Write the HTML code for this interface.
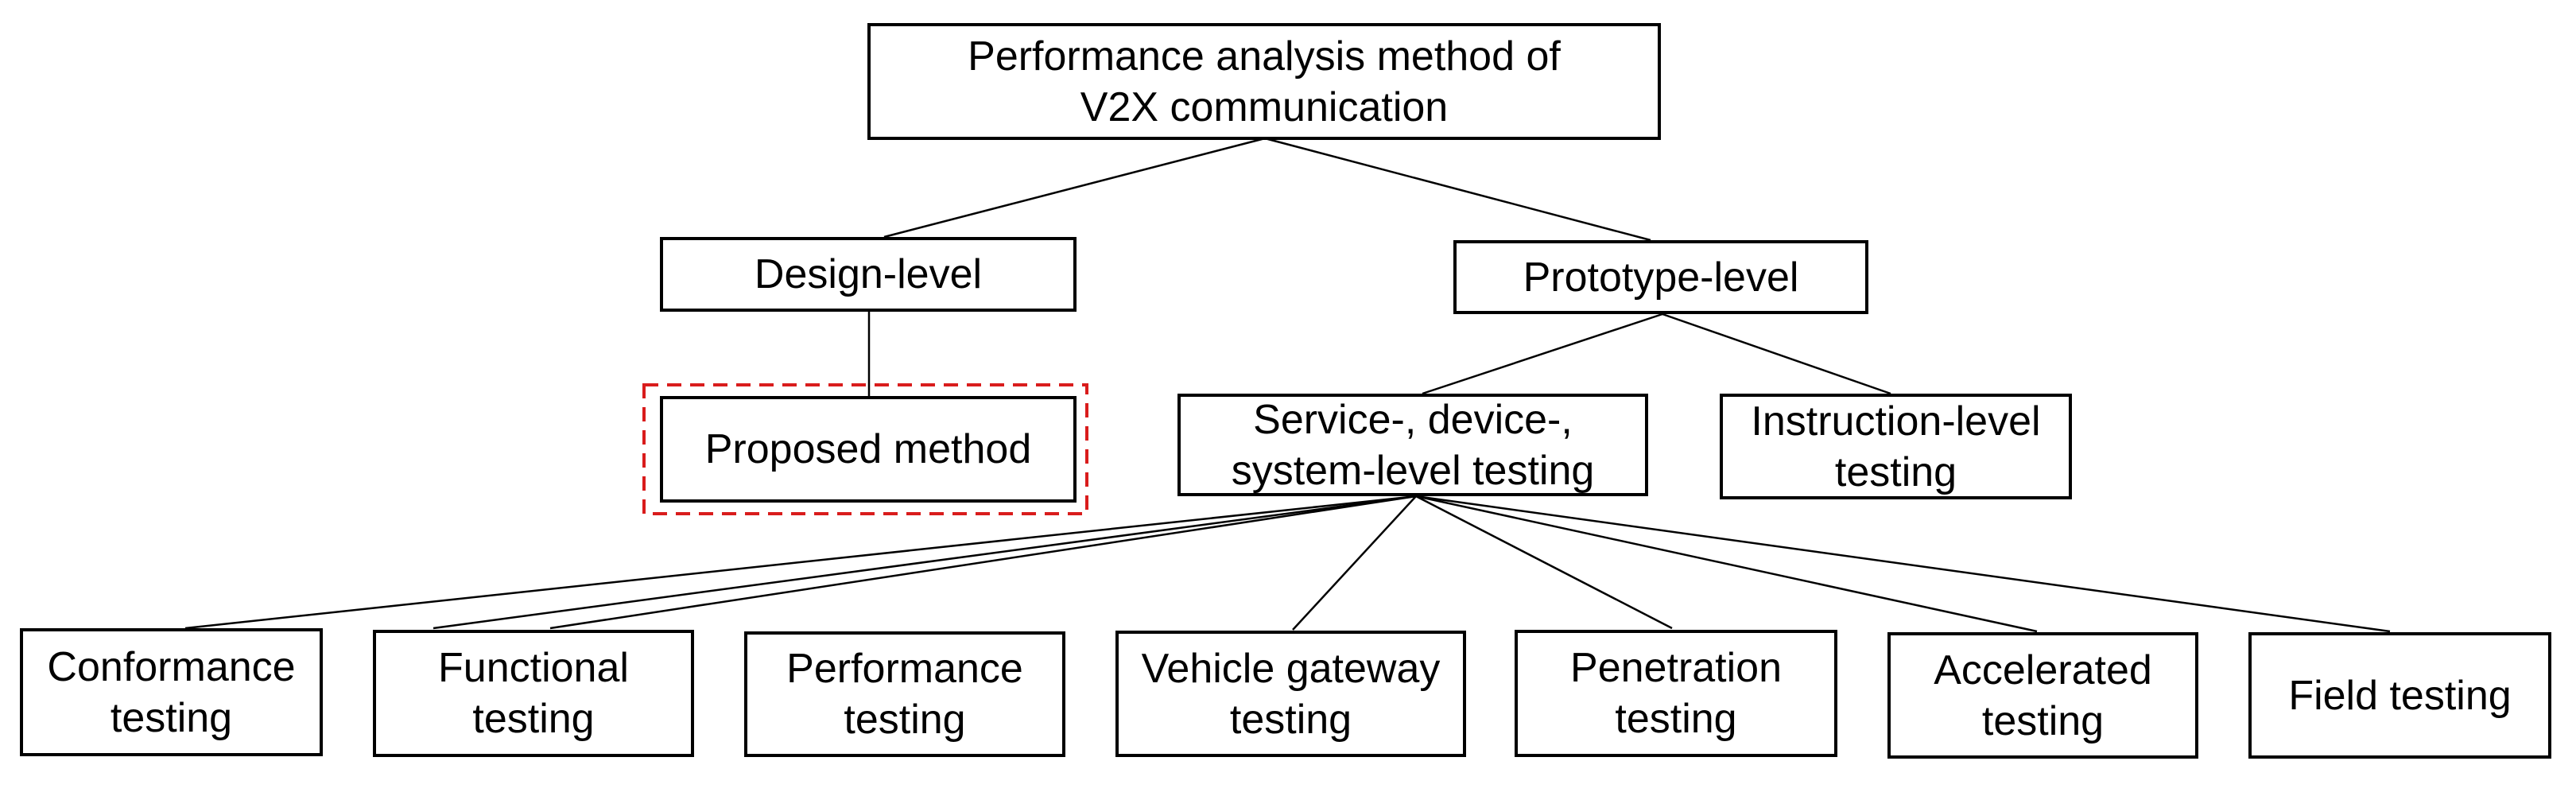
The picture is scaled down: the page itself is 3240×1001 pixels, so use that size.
<!DOCTYPE html>
<html><head><meta charset="utf-8"><style>
html,body{margin:0;padding:0;background:#fff;}
body{width:3240px;height:1001px;position:relative;overflow:hidden;font-family:"Liberation Sans","DejaVu Sans",sans-serif;}
.b{position:absolute;box-sizing:border-box;border:4px solid #000;background:#fff;display:flex;align-items:center;justify-content:center;text-align:center;font-size:52px;line-height:64px;color:#000;white-space:nowrap;}
svg{position:absolute;left:0;top:0;}
</style></head><body>
<svg width="3240" height="1001">
<g stroke="#000" stroke-width="2.5" fill="none">
<line x1="1591" y1="174" x2="1112" y2="298"/>
<line x1="1591" y1="174" x2="2076" y2="302"/>
<line x1="1093" y1="392" x2="1093" y2="498"/>
<line x1="2091" y1="395" x2="1789" y2="495"/>
<line x1="2091" y1="395" x2="2378" y2="495"/>
<line x1="1781" y1="624" x2="233" y2="790"/>
<line x1="1781" y1="624" x2="545" y2="790"/>
<line x1="1781" y1="624" x2="692" y2="790"/>
<line x1="1781" y1="624" x2="1626" y2="792"/>
<line x1="1781" y1="624" x2="2103" y2="790"/>
<line x1="1781" y1="624" x2="2562" y2="794"/>
<line x1="1781" y1="624" x2="3006" y2="794"/>
</g>
<rect x="810" y="484" width="557" height="162" fill="none" stroke="#d91c1c" stroke-width="4" stroke-dasharray="18,11"/>
</svg>
<div class="b" style="left:1091px;top:29px;width:998px;height:147px;">Performance analysis method of<br>V2X communication</div>
<div class="b" style="left:830px;top:298px;width:524px;height:94px;">Design-level</div>
<div class="b" style="left:1828px;top:302px;width:522px;height:93px;">Prototype-level</div>
<div class="b" style="left:830px;top:498px;width:524px;height:134px;">Proposed method</div>
<div class="b" style="left:1481px;top:495px;width:592px;height:129px;">Service-, device-,<br>system-level testing</div>
<div class="b" style="left:2163px;top:495px;width:443px;height:133px;">Instruction-level<br>testing</div>
<div class="b" style="left:25px;top:790px;width:381px;height:161px;">Conformance<br>testing</div>
<div class="b" style="left:469px;top:792px;width:404px;height:160px;">Functional<br>testing</div>
<div class="b" style="left:936px;top:794px;width:404px;height:158px;">Performance<br>testing</div>
<div class="b" style="left:1403px;top:793px;width:441px;height:159px;">Vehicle gateway<br>testing</div>
<div class="b" style="left:1905px;top:792px;width:406px;height:160px;">Penetration<br>testing</div>
<div class="b" style="left:2374px;top:795px;width:391px;height:159px;">Accelerated<br>testing</div>
<div class="b" style="left:2828px;top:795px;width:381px;height:159px;">Field testing</div>
</body></html>
